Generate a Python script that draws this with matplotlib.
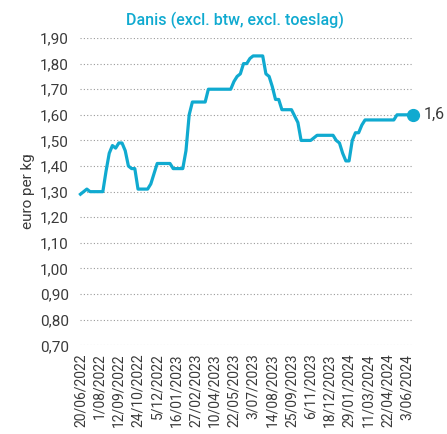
import numpy as np
import pandas as pd
import matplotlib
matplotlib.use("Agg")
import matplotlib.pyplot as plt

# weekly price Danis, euro per kg (excl. btw, excl. toeslag)
start_date = "2022-06-20"
prices = [
    1.29, 1.30, 1.31, 1.30, 1.30, 1.30, 1.30, 1.30, 1.38, 1.45,
    1.48, 1.47, 1.49, 1.49, 1.46, 1.40, 1.39, 1.39, 1.31, 1.31,
    1.31, 1.31, 1.33, 1.37, 1.41, 1.41, 1.41, 1.41, 1.41, 1.39,
    1.39, 1.39, 1.39, 1.46, 1.60, 1.65, 1.65, 1.65, 1.65, 1.65,
    1.70, 1.70, 1.70, 1.70, 1.70, 1.70, 1.70, 1.70, 1.73, 1.75,
    1.76, 1.80, 1.80, 1.82, 1.83, 1.83, 1.83, 1.83, 1.76, 1.75,
    1.71, 1.66, 1.66, 1.62, 1.62, 1.62, 1.62, 1.595, 1.57, 1.50,
    1.50, 1.50, 1.50, 1.51, 1.52, 1.52, 1.52, 1.52, 1.52, 1.52,
    1.50, 1.49, 1.45, 1.42, 1.42, 1.50, 1.53, 1.53, 1.56, 1.58,
    1.58, 1.58, 1.58, 1.58, 1.58, 1.58, 1.58, 1.58, 1.58, 1.60,
    1.60, 1.60, 1.60, 1.60, 1.60,
]
tick_labels = [
    "20/06/2022", "1/08/2022", "12/09/2022", "24/10/2022", "5/12/2022",
    "16/01/2023", "27/02/2023", "10/04/2023", "22/05/2023", "3/07/2023",
    "14/08/2023", "25/09/2023", "6/11/2023", "18/12/2023", "29/01/2024",
    "11/03/2024", "22/04/2024", "3/06/2024",
]
y_ticks = [0.70, 0.80, 0.90, 1.00, 1.10, 1.20, 1.30, 1.40, 1.50, 1.60, 1.70, 1.80, 1.90]
last_label = "1,6"

dates = pd.date_range(start_date, periods=len(prices), freq="7D")
tick_dates = pd.to_datetime(tick_labels, format="%d/%m/%Y")

plt.rcParams["font.family"] = ["Roboto", "DejaVu Sans"]
blue = "#10aad0"
grey = "#3a3a3a"

fig = plt.figure(figsize=(4.47, 4.34), dpi=100)
ax = fig.add_axes([80 / 447, 1 - 345.3 / 434, (413 - 80) / 447, (345.3 - 38) / 434])

ax.plot(dates, prices, color=blue, lw=2.3, solid_joinstyle="round", clip_on=False)
ax.plot(dates[-1], prices[-1], "o", color=blue, ms=8.5, clip_on=False)
ax.annotate(last_label, (dates[-1], prices[-1]), xytext=(8, 0), textcoords="offset points",
            va="center", ha="left", fontsize=11.5, color=grey, annotation_clip=False)

ax.set_xlim(dates[0] - pd.Timedelta(days=1), dates[-1])
ax.set_ylim(0.70, 1.90)
ax.set_yticks(y_ticks)
ax.set_yticklabels([f"{v:.2f}".replace(".", ",") for v in y_ticks], fontsize=11, color=grey)
ax.set_xticks(tick_dates)
ax.set_xticklabels(tick_labels, rotation=90, fontsize=10, color=grey)
ax.tick_params(length=0, axis="y", pad=8)
ax.tick_params(length=0, axis="x", pad=6)

ax.grid(axis="y", linestyle=(0, (1, 2)), color="#9a9a9a", lw=0.8)
ax.grid(axis="x", visible=False)
ax.set_axisbelow(True)
for s in ax.spines.values():
    s.set_visible(False)

ax.set_ylabel("euro per kg", fontsize=11, color=grey)
ax.yaxis.set_label_coords(-0.135, 0.50)

fig.text(235 / 447, 1 - 20 / 434, "Danis (excl. btw, excl. toeslag)", ha="center", va="center",
         fontsize=11.5, color=blue, fontweight="medium")

fig.savefig("out.png", dpi=100)
